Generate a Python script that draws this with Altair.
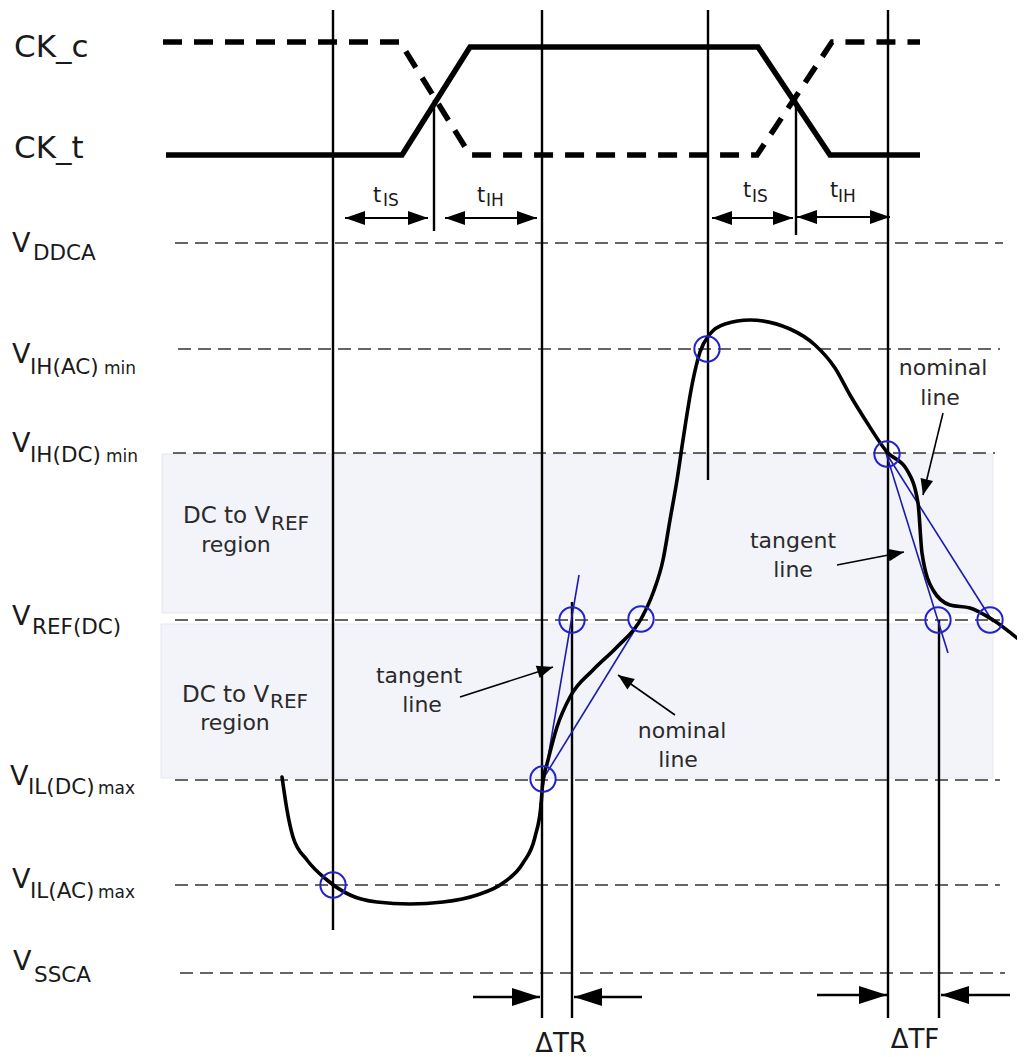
import altair as alt
import pandas as pd
import numpy as np

# ---------------- data (pixel-like units) ----------------
ck_c_x = [163, 400, 470, 757, 832, 920]
ck_c_y = [42, 42, 155, 155, 42, 42]
ck_t_x = [166, 402, 470, 758, 830, 920]
ck_t_y = [155, 155, 47, 47, 155, 155]

level_names = ["DDCA", "IH(AC)", "IH(DC)", "REF(DC)", "IL(DC)", "IL(AC)", "SSCA"]
level_y = [243, 349, 453, 620, 780, 885, 973]
level_x0 = [175, 178, 173, 175, 175, 175, 180]
level_x1 = [1003, 1000, 995, 1000, 1000, 1000, 1005]

region_x0 = [162, 161]
region_x1 = [993, 993]
region_top = [454, 624]
region_bot = [613, 778]

vline_x = [333, 542, 708, 888, 572, 939, 434, 796]
vline_top = [10, 10, 10, 10, 602, 620, 100, 97]
vline_bot = [930, 1018, 480, 1018, 1018, 1018, 231, 235]

wave_x = [282, 287, 293, 307, 327, 350, 377, 410, 443, 477, 503, 523, 535, 541, 543,
          547, 557, 570, 593, 617, 641, 653, 663, 670, 677, 683, 692, 700, 710, 725,
          750, 790, 815, 835, 850, 866, 887, 907, 918, 922, 933, 950, 970, 993, 1023]
wave_y = [777, 810, 837, 860, 880, 895, 902, 904, 902, 895, 883, 863, 837, 805, 780,
          764, 727, 697, 670, 647, 619, 593, 560, 520, 480, 440, 385, 352, 334, 324,
          320, 329, 345, 368, 395, 421, 452, 470, 503, 553, 590, 605, 608, 620, 643]

circ_x = [333, 543, 572, 641, 707, 887, 938, 990]
circ_y = [885, 779, 620, 619, 349, 454, 620, 620]

blue_x0 = [540, 543, 886, 886]
blue_y0 = [805, 779, 453, 453]
blue_x1 = [579, 644, 948, 993]
blue_y1 = [575, 615, 653, 622]

# annotation arrows (tail -> tip)
ann_x0 = [460, 675, 943, 837]
ann_y0 = [697, 715, 413, 565]
ann_x1 = [553, 618, 923, 904]
ann_y1 = [667, 675, 495, 552]

# timing arrows (tail -> tip), both directions listed
tarr_x0 = [386, 386, 491, 491, 752, 752, 843, 843]
tarr_x1 = [345, 428, 445, 537, 712, 793, 797, 890]
tarr_y = [218, 218, 218, 218, 218, 218, 217, 217]

# delta arrows (tail -> tip)
darr_x0 = [473, 642, 817, 1010]
darr_x1 = [540, 574, 887, 941]
darr_y = [997, 997, 995, 995]

ck_labels = ["CK_c", "CK_t"]
ck_lab_x = [14, 14]
ck_lab_y = [57, 158]

v_x = [12, 12, 12, 12, 10, 12, 13]
v_y = [252, 363, 452, 625, 785, 888, 970]
sub_x = [33, 30, 30, 32, 28, 30, 34]
sub_y = [260, 374, 462, 634, 794, 898, 982]

mm_text = ["min", "min", "max", "max"]
mm_x = [104, 106, 98, 98]
mm_y = [374, 462, 794, 898]

t_x = [373, 477, 743, 830]
t_y = [202, 202, 197, 197]
tsub_text = ["IS", "IH", "IS", "IH"]
tsub_x = [383, 486, 752, 838]
tsub_y = [206, 206, 202, 202]

box_x = [183, 182]
box_y = [523, 702]
ref_x = [271, 270]
ref_y = [530, 708]
reg_x = [236, 235]
reg_y = [552, 730]

ann_text = ["tangent", "line", "nominal", "line", "nominal", "line", "tangent", "line"]
ann_tx = [419, 422, 682, 678, 943, 940, 793, 793]
ann_ty = [683, 712, 738, 767, 375, 405, 548, 577]

delta_text = ["ΔTR", "ΔTF"]
delta_x = [561, 915]
delta_y = [1052, 1048]

# ---------------- scales ----------------
W, H = 1009, 1049
xs = alt.Scale(domain=[8, 8 + W])
ys = alt.Scale(domain=[8, 8 + H], reverse=True)
FONT = "DejaVu Sans"


def X(f):
    return alt.X(f"{f}:Q", scale=xs, axis=None)


def Y(f):
    return alt.Y(f"{f}:Q", scale=ys, axis=None)


def rules(x0, y0, x1, y1, **style):
    df = pd.DataFrame({"x0": x0, "y0": y0, "x1": x1, "y1": y1})
    return alt.Chart(df).mark_rule(**style).encode(
        x=X("x0"), y=Y("y0"), x2="x1:Q", y2="y1:Q")


def polyline(xv, yv, **style):
    df = pd.DataFrame({"x": xv, "y": yv, "o": list(range(len(xv)))})
    return alt.Chart(df).mark_line(**style).encode(
        x=X("x"), y=Y("y"), order="o:Q")


def heads(tx, ty, ax, ay, size, path):
    tx, ty, ax, ay = map(np.asarray, (tx, ty, ax, ay))
    ang = (np.degrees(np.arctan2(ty - ay, tx - ax)) + 360) % 360
    df = pd.DataFrame({"x": tx, "y": ty, "ang": ang})
    return alt.Chart(df).mark_point(
        shape=path, filled=True, color="black", opacity=1, size=size, strokeWidth=0
    ).encode(x=X("x"), y=Y("y"), angle=alt.Angle("ang:Q", scale=None))


def texts(t, xv, yv, size, align="left", color="#1a1a1a"):
    df = pd.DataFrame({"t": t, "x": xv, "y": yv})
    return alt.Chart(df).mark_text(
        font=FONT, fontSize=size, align=align, baseline="alphabetic", color=color
    ).encode(x=X("x"), y=Y("y"), text="t:N")


layers = []

# shaded regions
reg_df = pd.DataFrame({"x0": region_x0, "x1": region_x1, "y0": region_top, "y1": region_bot})
layers.append(alt.Chart(reg_df).mark_rect(color="#f3f3fa", stroke="#e6e6f0", strokeWidth=1).encode(
    x=X("x0"), x2="x1:Q", y=Y("y0"), y2="y1:Q"))

# dashed voltage levels
layers.append(rules(level_x0, level_y, level_x1, level_y,
                    color="#333333", strokeWidth=1.4, strokeDash=[13, 7]))

# vertical timing lines
layers.append(rules(vline_x, vline_top, vline_x, vline_bot, color="black", strokeWidth=2.4))

# clocks
layers.append(polyline(ck_c_x, ck_c_y, color="black", strokeWidth=5.5,
                       strokeDash=[19, 12], strokeCap="butt"))
layers.append(polyline(ck_t_x, ck_t_y, color="black", strokeWidth=5.5, strokeJoin="miter"))

# blue tangent / nominal lines
layers.append(rules(blue_x0, blue_y0, blue_x1, blue_y1, color="#1c1ca8", strokeWidth=1.6))

# waveform
layers.append(polyline(wave_x, wave_y, color="black", strokeWidth=3.6,
                       interpolate="monotone", strokeCap="round"))

# blue circles
circ_df = pd.DataFrame({"x": circ_x, "y": circ_y})
layers.append(alt.Chart(circ_df).mark_point(
    shape="circle", size=640, filled=False, color="#2222cc", strokeWidth=2, opacity=1
).encode(x=X("x"), y=Y("y")))

# annotation arrows
layers.append(rules(ann_x0, ann_y0, ann_x1, ann_y1, color="black", strokeWidth=1.6))
layers.append(heads(ann_x1, ann_y1, ann_x0, ann_y0, 256, "M0,0L-2,-0.8L-2,0.8Z"))

# timing arrows
layers.append(rules(tarr_x0, tarr_y, tarr_x1, tarr_y, color="black", strokeWidth=2.2))
layers.append(heads(tarr_x1, tarr_y, tarr_x0, tarr_y, 400, "M0,0L-2,-0.7L-2,0.7Z"))

# delta arrows
layers.append(rules(darr_x0, darr_y, darr_x1, darr_y, color="black", strokeWidth=2.6))
layers.append(heads(darr_x1, darr_y, darr_x0, darr_y, 784, "M0,0L-2,-0.65L-2,0.65Z"))

# texts
layers.append(texts(ck_labels, ck_lab_x, ck_lab_y, 31))
layers.append(texts(["V"] * len(v_x), v_x, v_y, 27))
layers.append(texts(level_names, sub_x, sub_y, 21.5))
layers.append(texts(mm_text, mm_x, mm_y, 17))
layers.append(texts(["t"] * len(t_x), t_x, t_y, 21))
layers.append(texts(tsub_text, tsub_x, tsub_y, 17))
layers.append(texts(["DC to V"] * 2, box_x, box_y, 23, color="#2a2a2a"))
layers.append(texts(["REF"] * 2, ref_x, ref_y, 20, color="#2a2a2a"))
layers.append(texts(["region"] * 2, reg_x, reg_y, 22, align="center", color="#2a2a2a"))
layers.append(texts(ann_text, ann_tx, ann_ty, 22, align="center", color="#2a2a2a"))
layers.append(texts(delta_text, delta_x, delta_y, 26, align="center"))

chart = alt.layer(*layers).properties(
    width=W, height=H, padding=0, autosize=alt.AutoSizeParams(type="none"),
    background="white"
).configure_view(stroke=None)

chart.save("out.html", embed_options={"renderer": "svg", "actions": False})
